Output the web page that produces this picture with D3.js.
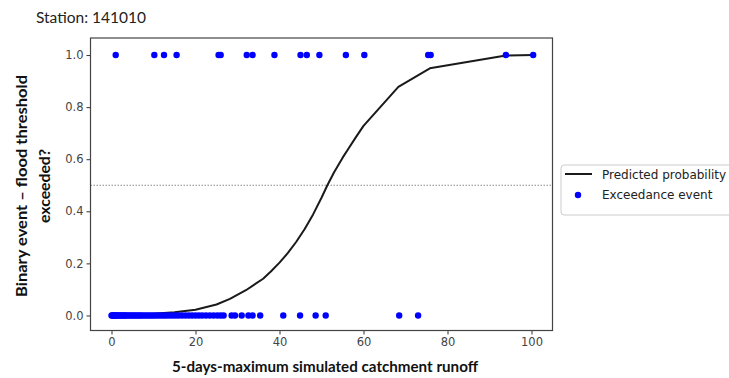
<!DOCTYPE html>
<html>
<head>
<meta charset="utf-8">
<script src="https://cdn.jsdelivr.net/npm/d3@7"></script>
<style>
  html, body { margin: 0; padding: 0; background: #fff; }
  svg { display: block; }
</style>
</head>
<body>
<svg id="chart" width="729" height="378"></svg>
<script>
// ---- Data ----
const stationTitle = "Station: 141010";
const xTicks = [0, 20, 40, 60, 80, 100];
const yTicks = [0.0, 0.2, 0.4, 0.6, 0.8, 1.0];

// Exceedance events (value 1)
const eventX = [1.0, 10.2, 12.5, 15.5, 25.5, 26.0, 32.2, 33.6, 38.8, 45.0, 46.5, 49.5, 55.8, 60.2, 75.4, 76.0, 93.9, 100.4];
// Non-exceedance (value 0)
const noEventX = [0.0, 0.2, 0.4, 0.6, 0.8, 1.0, 1.2, 1.5, 1.8, 2.1, 2.4, 2.7, 3.0, 3.3, 3.6, 4.0, 4.4, 4.8, 5.2, 5.6,
  6.0, 6.4, 6.8, 7.2, 7.7, 8.2, 8.7, 9.2, 9.7, 10.2, 10.8, 11.4, 12.0, 12.6, 13.2, 13.9, 14.6, 15.3, 16.0, 16.8,
  17.6, 18.4, 19.2, 20.0, 20.8, 21.6, 22.5, 23.4, 24.3, 25.2, 26.0, 26.7, 28.6, 29.4, 31.0, 32.6, 33.6, 35.4,
  40.9, 44.9, 48.6, 51.0, 68.5, 73.0];

// Predicted probability curve
const curveX = [0, 5, 10, 15, 20, 25, 28.2, 32, 36.1, 38, 40, 42, 44, 46, 48, 50, 51.4, 53, 55, 56.4, 58, 60, 68.3, 75.8, 93.9, 100.4];
const curveY = [0.002, 0.004, 0.007, 0.012, 0.022, 0.042, 0.064, 0.097, 0.141, 0.17, 0.203, 0.24, 0.283, 0.332, 0.388, 0.452, 0.5, 0.55, 0.605, 0.64, 0.68, 0.728, 0.878, 0.949, 0.998, 1.0];

const threshold = 0.5;
const legendLabels = ["Predicted probability", "Exceedance event"];

// ---- Drawing ----
const svg = d3.select("#chart");
const pLeft = 90.5, pRight = 552.5, pTop = 38, pBottom = 330.5;

const x = d3.scaleLinear().domain([-5, 105]).range([pLeft, pRight]);
const y = d3.scaleLinear().domain([-0.0577, 1.0654]).range([pBottom, pTop]);

// Title
svg.append("text")
  .attr("x", 36).attr("y", 23)
  .attr("font-family", "Lato, 'Open Sans', sans-serif")
  .attr("font-size", 15.5)
  .attr("fill", "#222")
  .text(stationTitle);

// Threshold line
svg.append("line")
  .attr("x1", pLeft).attr("x2", pRight)
  .attr("y1", y(threshold)).attr("y2", y(threshold))
  .attr("stroke", "#888").attr("stroke-width", 1)
  .attr("stroke-dasharray", "1.5,1.5");

// Curve
svg.append("path")
  .datum(curveX.map((d, i) => [d, curveY[i]]))
  .attr("fill", "none")
  .attr("stroke", "#1a1a1a")
  .attr("stroke-width", 2)
  .attr("stroke-linejoin", "round")
  .attr("d", d3.line().x(d => x(d[0])).y(d => y(d[1])));

// Points
const pts = svg.append("g");
pts.selectAll("circle.e1").data(eventX).enter().append("circle")
  .attr("cx", d => x(d)).attr("cy", y(1)).attr("r", 3.2).attr("fill", "#0000ff");
pts.selectAll("circle.e0").data(noEventX).enter().append("circle")
  .attr("cx", d => x(d)).attr("cy", y(0)).attr("r", 3.2).attr("fill", "#0000ff");

// Axes
const xAxis = d3.axisBottom(x).tickValues(xTicks).tickSize(4).tickPadding(3).tickFormat(d3.format("d"));
const yAxis = d3.axisLeft(y).tickValues(yTicks).tickSize(4).tickPadding(3).tickFormat(d3.format(".1f"));

const gx = svg.append("g").attr("transform", `translate(0,${pBottom})`).call(xAxis);
const gy = svg.append("g").attr("transform", `translate(${pLeft},0)`).call(yAxis);
[gx, gy].forEach(g => {
  g.select(".domain").remove();
  g.selectAll(".tick line").attr("stroke", "#333");
  g.selectAll(".tick text")
    .attr("font-family", "'DejaVu Sans', sans-serif")
    .attr("font-size", 11.5)
    .attr("fill", "#444");
});

// Frame
svg.append("rect")
  .attr("x", pLeft).attr("y", pTop)
  .attr("width", pRight - pLeft).attr("height", pBottom - pTop)
  .attr("fill", "none").attr("stroke", "#444").attr("stroke-width", 1.2);

// Axis labels
svg.append("text")
  .attr("x", 325).attr("y", 372)
  .attr("text-anchor", "middle")
  .attr("font-family", "Lato, 'Open Sans', sans-serif")
  .attr("font-weight", "bold")
  .attr("font-size", 15)
  .attr("fill", "#111")
  .attr("textLength", 306)
  .attr("lengthAdjust", "spacingAndGlyphs")
  .text("5-days-maximum simulated catchment runoff");

const yl = svg.append("text")
  .attr("transform", "translate(0,186) rotate(-90)")
  .attr("text-anchor", "middle")
  .attr("font-family", "Lato, 'Open Sans', sans-serif")
  .attr("font-weight", "bold")
  .attr("font-size", 15.5)
  .attr("fill", "#111");
yl.append("tspan").attr("x", 0).attr("y", 27)
  .attr("textLength", 222).attr("lengthAdjust", "spacingAndGlyphs")
  .text("Binary event \u2013 flood threshold");
yl.append("tspan").attr("x", 0).attr("y", 50)
  .attr("textLength", 74).attr("lengthAdjust", "spacingAndGlyphs")
  .text("exceeded?");

// Legend
const lg = svg.append("g");
lg.append("rect")
  .attr("x", 561).attr("y", 165).attr("width", 180).attr("height", 50)
  .attr("rx", 3).attr("fill", "#fff").attr("stroke", "#ccc").attr("stroke-width", 1);
lg.append("line")
  .attr("x1", 565).attr("x2", 592).attr("y1", 174).attr("y2", 174)
  .attr("stroke", "#1a1a1a").attr("stroke-width", 2);
lg.append("circle").attr("cx", 578).attr("cy", 195).attr("r", 3.2).attr("fill", "#0000ff");
lg.selectAll("text.l").data(legendLabels).enter().append("text")
  .attr("x", 602).attr("y", (d, i) => 178.5 + i * 20)
  .attr("font-family", "'DejaVu Sans', sans-serif")
  .attr("font-size", 12)
  .attr("fill", "#222")
  .text(d => d);
</script>
</body>
</html>
